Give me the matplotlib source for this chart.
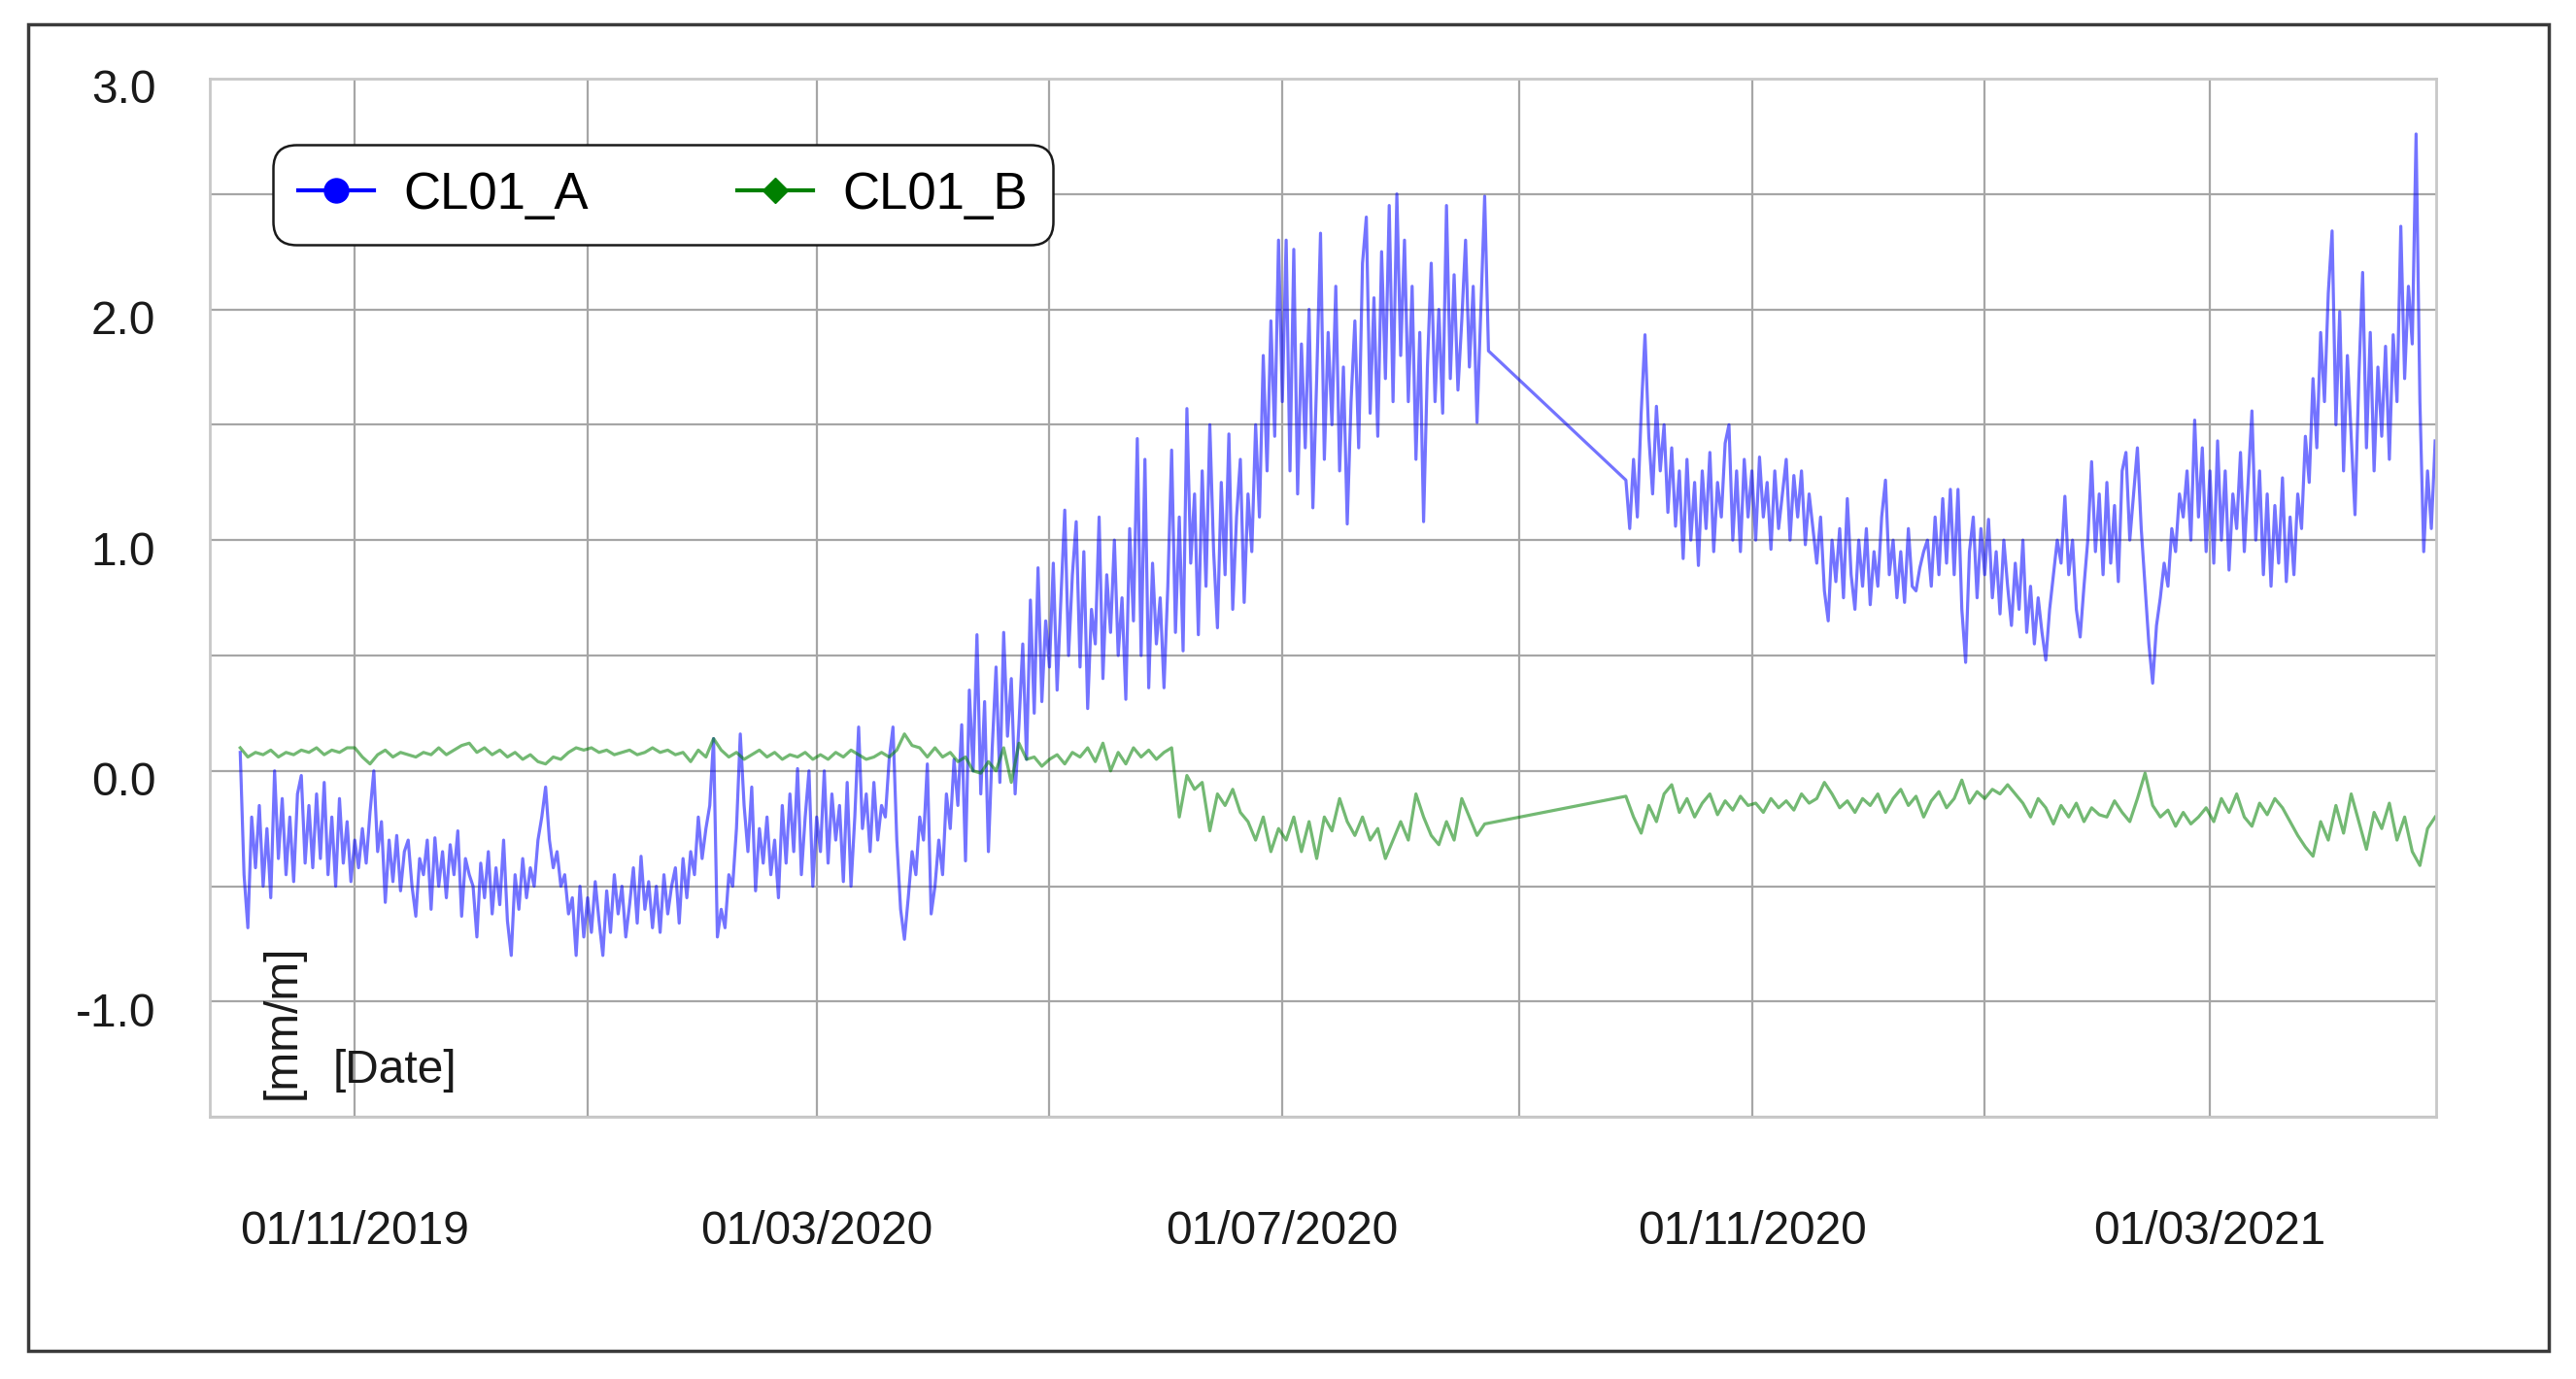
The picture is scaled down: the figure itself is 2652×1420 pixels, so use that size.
import numpy as np
import pandas as pd
import matplotlib
matplotlib.use('Agg')
import matplotlib.pyplot as plt
import matplotlib.dates as mdates
from matplotlib.lines import Line2D
from matplotlib.patches import Rectangle
from matplotlib.transforms import ScaledTranslation

# CL01_A, daily readings, one list per month (first list starts 02/10/2019)
a_2019_10 = [0.08, -0.45, -0.68, -0.2, -0.42, -0.15, -0.5, -0.25, -0.55, 0.0,
             -0.38, -0.12, -0.45, -0.2, -0.48, -0.1, -0.02, -0.4, -0.15, -0.42,
             -0.1, -0.38, -0.05, -0.45, -0.2, -0.5, -0.12, -0.4, -0.22, -0.48]
a_2019_11 = [-0.3, -0.42, -0.25, -0.4, -0.18, 0.0, -0.35, -0.22, -0.57, -0.3,
             -0.48, -0.28, -0.52, -0.35, -0.3, -0.5, -0.63, -0.38, -0.45, -0.3,
             -0.6, -0.29, -0.5, -0.35, -0.55, -0.32, -0.45, -0.26, -0.63, -0.38]
a_2019_12 = [-0.45, -0.5, -0.72, -0.4, -0.55, -0.35, -0.62, -0.42, -0.58, -0.3,
             -0.65, -0.8, -0.45, -0.6, -0.38, -0.55, -0.42, -0.5, -0.3, -0.2,
             -0.07, -0.3, -0.42, -0.35, -0.5, -0.45, -0.62, -0.55, -0.8, -0.5,
             -0.72]
a_2020_01 = [-0.55, -0.7, -0.48, -0.65, -0.8, -0.52, -0.7, -0.45, -0.62, -0.5,
             -0.72, -0.58, -0.42, -0.66, -0.37, -0.6, -0.48, -0.68, -0.5, -0.7,
             -0.45, -0.62, -0.5, -0.42, -0.66, -0.38, -0.55, -0.35, -0.45, -0.2,
             -0.38]
a_2020_02 = [-0.25, -0.15, 0.14, -0.72, -0.6, -0.68, -0.45, -0.5, -0.25, 0.16,
             -0.15, -0.35, -0.07, -0.52, -0.25, -0.4, -0.2, -0.45, -0.3, -0.55,
             -0.15, -0.4, -0.1, -0.35, 0.01, -0.45, -0.2, 0.0, -0.5]
a_2020_03 = [-0.2, -0.35, 0.0, -0.4, -0.1, -0.3, -0.15, -0.48, -0.05, -0.5,
             -0.2, 0.19, -0.25, -0.1, -0.35, -0.05, -0.3, -0.15, -0.2, 0.05,
             0.19, -0.3, -0.6, -0.73, -0.55, -0.35, -0.45, -0.2, -0.3, 0.03,
             -0.62]
a_2020_04 = [-0.5, -0.3, -0.45, -0.1, -0.25, 0.05, -0.15, 0.2, -0.39, 0.35,
             0.0, 0.59, -0.1, 0.3, -0.35, 0.1, 0.45, -0.05, 0.6, 0.15,
             0.4, -0.1, 0.2, 0.55, 0.05, 0.74, 0.25, 0.88, 0.3, 0.65]
a_2020_05 = [0.45, 0.9, 0.35, 0.75, 1.13, 0.5, 0.85, 1.08, 0.45, 0.95,
             0.27, 0.7, 0.55, 1.1, 0.4, 0.85, 0.6, 1.0, 0.5, 0.75,
             0.31, 1.05, 0.65, 1.44, 0.5, 1.35, 0.36, 0.9, 0.55, 0.75,
             0.36]
a_2020_06 = [0.8, 1.39, 0.6, 1.1, 0.52, 1.57, 0.9, 1.2, 0.59, 1.3,
             0.8, 1.5, 0.95, 0.62, 1.25, 0.85, 1.46, 0.7, 1.1, 1.35,
             0.73, 1.2, 0.95, 1.5, 1.1, 1.8, 1.3, 1.95, 1.45, 2.3]
a_2020_07 = [1.6, 2.3, 1.3, 2.26, 1.2, 1.85, 1.4, 2.0, 1.14, 1.7,
             2.33, 1.35, 1.9, 1.5, 2.1, 1.3, 1.75, 1.07, 1.6, 1.95,
             1.4, 2.2, 2.4, 1.55, 2.05, 1.45, 2.25, 1.7, 2.45, 1.6,
             2.5]
a_2020_08 = [1.8, 2.3, 1.6, 2.1, 1.35, 1.9, 1.08, 1.75, 2.2, 1.6,
             2.0, 1.55, 2.45, 1.7, 2.15, 1.65, 1.95, 2.3, 1.75, 2.1,
             1.51, 2.0, 2.49, 1.82]
# after the logger gap: starts 29/09/2020
a_2020_10 = [1.26, 1.05,
             1.35, 1.1, 1.55, 1.89, 1.45, 1.2, 1.58, 1.3, 1.5, 1.12,
             1.4, 1.06, 1.3, 0.92, 1.35, 1.0, 1.25, 0.89, 1.3, 1.05,
             1.38, 0.95, 1.25, 1.1, 1.42, 1.5, 1.0, 1.3, 0.95, 1.35,
             1.1]
a_2020_11 = [1.3, 1.0, 1.36, 1.1, 1.25, 0.96, 1.3, 1.05, 1.2, 1.35,
             1.0, 1.28, 1.1, 1.3, 0.98, 1.2, 1.05, 0.9, 1.1, 0.78,
             0.65, 1.0, 0.82, 1.05, 0.75, 1.18, 0.85, 0.7, 1.0, 0.8]
a_2020_12 = [1.05, 0.72, 0.95, 0.8, 1.1, 1.26, 0.85, 1.0, 0.75, 0.95,
             0.73, 1.05, 0.8, 0.78, 0.88, 0.95, 1.0, 0.8, 1.1, 0.85,
             1.18, 0.9, 1.22, 0.85, 1.22, 0.7, 0.47, 0.95, 1.1, 0.75,
             1.05]
a_2021_01 = [0.85, 1.09, 0.75, 0.95, 0.68, 1.0, 0.8, 0.63, 0.9, 0.7,
             1.0, 0.6, 0.8, 0.55, 0.75, 0.6, 0.48, 0.7, 0.85, 1.0,
             0.9, 1.19, 0.85, 1.0, 0.7, 0.58, 0.8, 1.0, 1.34, 0.95,
             1.2]
a_2021_02 = [0.85, 1.25, 0.9, 1.15, 0.82, 1.3, 1.38, 1.0, 1.2, 1.4,
             1.05, 0.8, 0.55, 0.38, 0.63, 0.75, 0.9, 0.8, 1.05, 0.95,
             1.2, 1.1, 1.3, 1.0, 1.52, 1.1, 1.4, 0.95]
a_2021_03 = [1.3, 0.9, 1.43, 1.0, 1.3, 0.87, 1.2, 1.05, 1.38, 0.95,
             1.25, 1.56, 1.0, 1.3, 0.85, 1.2, 0.8, 1.15, 0.9, 1.27,
             0.82, 1.1, 0.85, 1.2, 1.05, 1.45, 1.25, 1.7, 1.4, 1.9,
             1.6]
a_2021_04 = [2.07, 2.34, 1.5, 1.99, 1.3, 1.8, 1.45, 1.11, 1.7, 2.16,
             1.4, 1.9, 1.3, 1.75, 1.45, 1.84, 1.35, 1.89, 1.6, 2.36,
             1.7, 2.1, 1.85, 2.76, 1.6, 0.95, 1.3, 1.05, 1.43]

# CL01_B, one reading every two days
b_2019_10 = [0.1, 0.06, 0.08, 0.07, 0.09, 0.06, 0.08, 0.07, 0.09, 0.08, 0.1, 0.07, 0.09, 0.08, 0.1]
b_2019_11 = [0.1, 0.06, 0.03, 0.07, 0.09, 0.06, 0.08, 0.07, 0.06, 0.08, 0.07, 0.1, 0.07, 0.09, 0.11]
b_2019_12 = [0.12, 0.08, 0.1, 0.07, 0.09, 0.06, 0.08, 0.05, 0.07, 0.04, 0.03, 0.06, 0.05, 0.08, 0.1, 0.09]
b_2020_01 = [0.1, 0.08, 0.09, 0.07, 0.08, 0.09, 0.07, 0.08, 0.1, 0.08, 0.09, 0.07, 0.08, 0.04, 0.09]
b_2020_02 = [0.06, 0.14, 0.09, 0.06, 0.08, 0.05, 0.07, 0.09, 0.06, 0.08, 0.05, 0.07, 0.06, 0.08, 0.05]
b_2020_03 = [0.07, 0.05, 0.08, 0.06, 0.09, 0.07, 0.05, 0.06, 0.08, 0.06, 0.09, 0.16, 0.11, 0.1, 0.06]
b_2020_04 = [0.1, 0.06, 0.08, 0.04, 0.06, 0.0, -0.01, 0.04, 0.0, 0.1, -0.05, 0.12, 0.05, 0.06, 0.02]
b_2020_05 = [0.05, 0.07, 0.03, 0.08, 0.06, 0.1, 0.04, 0.12, 0.0, 0.08, 0.03, 0.1, 0.06, 0.09, 0.05, 0.08]
b_2020_06 = [0.1, -0.2, -0.02, -0.08, -0.05, -0.26, -0.1, -0.15, -0.08, -0.18, -0.22, -0.3, -0.2, -0.35, -0.25]
b_2020_07 = [-0.3, -0.2, -0.35, -0.22, -0.38, -0.2, -0.26, -0.12, -0.22, -0.28, -0.2, -0.3, -0.25, -0.38, -0.3]
b_2020_08 = [-0.22, -0.3, -0.1, -0.2, -0.28, -0.32, -0.22, -0.3, -0.12, -0.2, -0.28, -0.23]
b_2020_10 = [-0.11, -0.2, -0.27, -0.15, -0.22, -0.1, -0.06, -0.18, -0.12, -0.2, -0.14, -0.1, -0.19, -0.13, -0.17, -0.11, -0.15]
b_2020_11 = [-0.14, -0.18, -0.12, -0.16, -0.13, -0.17, -0.1, -0.14, -0.12, -0.05, -0.1, -0.16, -0.13, -0.18, -0.12]
b_2020_12 = [-0.15, -0.1, -0.18, -0.12, -0.08, -0.15, -0.11, -0.2, -0.13, -0.09, -0.16, -0.12, -0.04, -0.14, -0.09]
b_2021_01 = [-0.12, -0.08, -0.1, -0.06, -0.1, -0.14, -0.2, -0.12, -0.16, -0.23, -0.15, -0.2, -0.14, -0.22, -0.16, -0.19]
b_2021_02 = [-0.2, -0.13, -0.18, -0.22, -0.12, -0.01, -0.15, -0.2, -0.17, -0.24, -0.18, -0.23, -0.2, -0.16]
b_2021_03 = [-0.22, -0.12, -0.18, -0.1, -0.2, -0.24, -0.14, -0.19, -0.12, -0.16, -0.22, -0.28, -0.33, -0.37, -0.22]
b_2021_04 = [-0.3, -0.15, -0.27, -0.1, -0.22, -0.34, -0.18, -0.25, -0.14, -0.3, -0.2, -0.35, -0.41, -0.25, -0.2]

series_a = [('2019-10-02', a_2019_10), ('2019-11-01', a_2019_11), ('2019-12-01', a_2019_12),
            ('2020-01-01', a_2020_01), ('2020-02-01', a_2020_02), ('2020-03-01', a_2020_03),
            ('2020-04-01', a_2020_04), ('2020-05-01', a_2020_05), ('2020-06-01', a_2020_06),
            ('2020-07-01', a_2020_07), ('2020-08-01', a_2020_08), ('2020-09-29', a_2020_10),
            ('2020-11-01', a_2020_11), ('2020-12-01', a_2020_12), ('2021-01-01', a_2021_01),
            ('2021-02-01', a_2021_02), ('2021-03-01', a_2021_03), ('2021-04-01', a_2021_04)]
series_b = [('2019-10-02', b_2019_10), ('2019-11-01', b_2019_11), ('2019-12-01', b_2019_12),
            ('2020-01-02', b_2020_01), ('2020-02-01', b_2020_02), ('2020-03-02', b_2020_03),
            ('2020-04-01', b_2020_04), ('2020-05-01', b_2020_05), ('2020-06-02', b_2020_06),
            ('2020-07-02', b_2020_07), ('2020-08-01', b_2020_08), ('2020-09-29', b_2020_10),
            ('2020-11-02', b_2020_11), ('2020-12-02', b_2020_12), ('2021-01-01', b_2021_01),
            ('2021-02-02', b_2021_02), ('2021-03-02', b_2021_03), ('2021-04-01', b_2021_04)]

FONT = 34.5


def build_series(parts, step):
    dates, values = [], []
    for start, vals in parts:
        d = pd.date_range(start, periods=len(vals), freq=step)
        if dates:
            assert d[0] > dates[-1][-1], start
        dates.append(d)
        values.append(np.array(vals))
    return dates[0].append(dates[1:]), np.concatenate(values)


def plot_chart():
    plt.rcParams['font.family'] = ['Liberation Sans', 'DejaVu Sans']
    fig = plt.figure(figsize=(26.52, 14.2), dpi=100)
    fig.patches.append(Rectangle((0.0109, 0.0204), 0.9785, 0.962, transform=fig.transFigure,
                                 fill=False, edgecolor='#3a3a3a', linewidth=2.5))
    ax = fig.add_axes([0.0814, 0.190, 0.8643, 0.753])

    xa, ya = build_series(series_a, 'D')
    xb, yb = build_series(series_b, '2D')
    ax.plot(xa, ya, color='#0000ff', alpha=0.55, linewidth=2.3)
    ax.plot(xb, yb, color='#008000', alpha=0.55, linewidth=2.3)

    ax.set_xlim(pd.Timestamp('2019-09-24'), pd.Timestamp('2021-04-29 06:00'))
    ax.set_ylim(-1.5, 3.0)

    ax.xaxis.set_major_locator(mdates.MonthLocator(bymonth=[3, 7, 11]))
    ax.xaxis.set_minor_locator(mdates.MonthLocator(bymonth=[1, 5, 9]))
    ax.xaxis.set_major_formatter(mdates.DateFormatter('%d/%m/%Y'))
    ax.set_yticks([-1.0, 0.0, 1.0, 2.0, 3.0])
    ax.set_yticks([-1.5, -0.5, 0.5, 1.5, 2.5], minor=True)
    ax.yaxis.set_major_formatter(matplotlib.ticker.FormatStrFormatter('%.1f'))

    ax.grid(True, which='both', color='#a6a6a6', linewidth=1.6)
    ax.set_axisbelow(True)
    ax.tick_params(axis='both', which='both', length=0, labelsize=FONT, colors='#1a1a1a')
    ax.tick_params(axis='x', pad=69)
    ax.tick_params(axis='y', pad=40)
    shift = ScaledTranslation(0, -0.08, fig.dpi_scale_trans)
    for lab in ax.get_yticklabels():
        lab.set_transform(lab.get_transform() + shift)
    for s in ax.spines.values():
        s.set_color('#c8c8c8')
        s.set_linewidth(2)

    ax.text(0.0554, 0.045, '[Date]', transform=ax.transAxes, fontsize=FONT,
            ha='left', va='center', color='#1a1a1a')
    ax.text(0.0327, 0.092, '[mm/m]', transform=ax.transAxes, fontsize=FONT,
            rotation=90, ha='center', va='center', color='#1a1a1a')

    handles = [Line2D([], [], color='blue', marker='o', markersize=18, linewidth=3, label='CL01_A'),
               Line2D([], [], color='green', marker='D', markersize=13, linewidth=3, label='CL01_B')]
    leg = ax.legend(handles=handles, loc='upper left', bbox_to_anchor=(0.0284, 0.936),
                    borderaxespad=0, ncol=2, fontsize=38, handlelength=1.48,
                    handletextpad=0.57, columnspacing=2.9, borderpad=0.5,
                    fancybox=True, framealpha=1, edgecolor='#1a1a1a')
    leg.get_frame().set_linewidth(1.8)
    leg.get_frame().set_boxstyle('round', pad=0, rounding_size=0.45)

    fig.savefig('out.png', dpi=100, facecolor='white')


if __name__ == '__main__':
    plot_chart()
